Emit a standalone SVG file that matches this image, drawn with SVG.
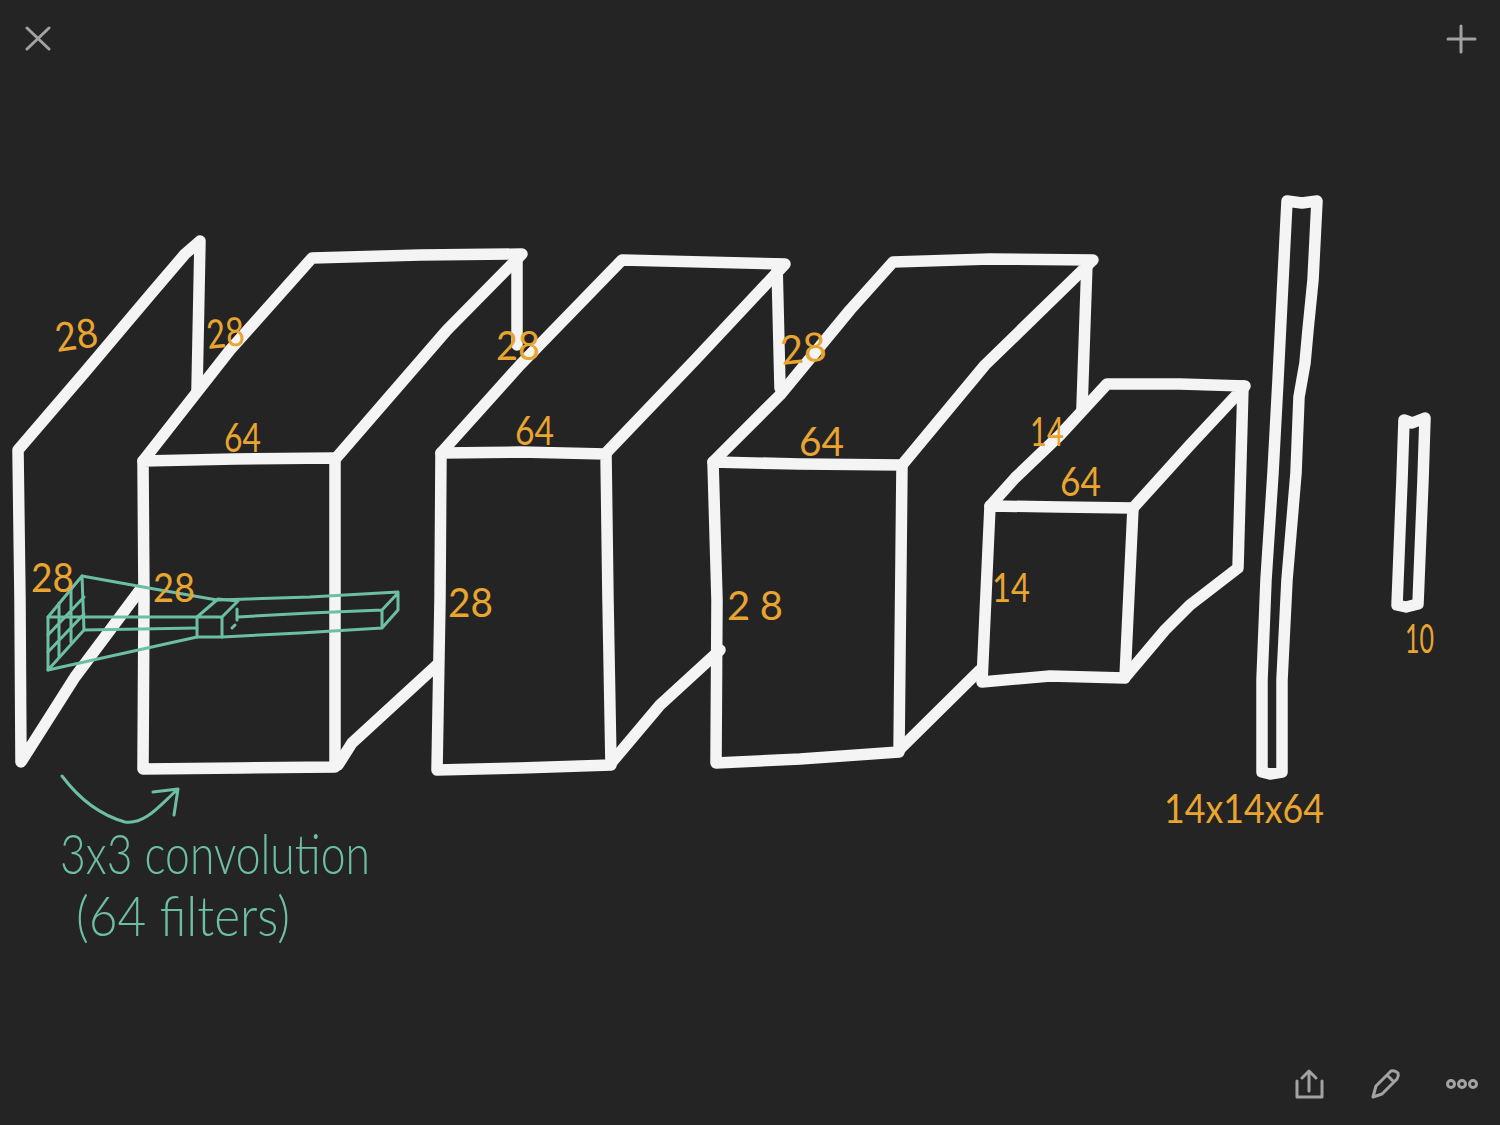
<svg xmlns="http://www.w3.org/2000/svg" width="1500" height="1125" viewBox="0 0 1500 1125">
<style>
.w{fill:none;stroke:#f5f4f4;stroke-width:11.5;stroke-linecap:round;stroke-linejoin:round}
.g{fill:none;stroke:#6cbfa4;stroke-width:3;stroke-linecap:round;stroke-linejoin:round}
.i{fill:none;stroke:#a3a2a2;stroke-width:3;stroke-linecap:round;stroke-linejoin:round}
text{font-family:"Lato","Open Sans",sans-serif}
.o{fill:#e8a530;font-size:40px}
.t{fill:#6cbfa4;font-size:56px;font-weight:300}
</style>
<rect width="1500" height="1125" fill="#252425"/>
<g id="sheet"><path class="w" d="M197 391L200 241L185 254L150 295L85 372L18 450L20 600L21 762L75 677L140 590"/></g>
<g id="box1"><path class="w" d="M143 461L235 459L335 458L335 767L240 768L143 769L144 600Z"/><path class="w" d="M143 461L230 350L312 258L420 255L522 254L447 330L337 457"/><path class="w" d="M517 258L517 345"/><path class="w" d="M338 765L352 743L437 665"/></g>
<g id="box2"><path class="w" d="M441 453L520 452L606 454L608 600L611 765L520 768L437 770L440 600Z"/><path class="w" d="M441 453L520 365L622 260L785 264L695 360L606 453"/><path class="w" d="M777 264L780 388"/><path class="w" d="M612 762L660 705L720 650"/></g>
<g id="box3"><path class="w" d="M713 462L800 464L902 465L899 752L800 759L716 763L717 600Z"/><path class="w" d="M713 462L780 395L850 310L893 262L990 259L1093 260L985 365L902 465"/><path class="w" d="M1087 262L1082 408"/><path class="w" d="M899 750L980 670"/></g>
<g id="box4"><path class="w" d="M990 506L1060 507L1133 508L1125 678L1050 676L982 682Z"/><path class="w" d="M990 506L1015 478L1060 435L1107 384L1180 384L1245 386L1190 445L1133 508"/><path class="w" d="M1243 386L1238 568L1190 605L1165 630L1127 675"/></g>
<g id="flatten"><path class="w" d="M1287 201L1302 203L1317 201L1313 280L1308 330L1305 363L1299 397L1296 473L1287 580L1282 680L1282 772L1270 774L1262 772L1262 680L1266 580L1273 473L1278 380L1283 280Z"/></g>
<g id="output"><path class="w" d="M1404 420L1412 423L1425 418L1423 480L1418 604L1406 607L1397 605L1402 480Z"/></g>
<g id="filter"><path class="g" d="M82 576L48 617L48 670L84 630Z"/><path class="g" d="M71 589L71 642M59 603L59 656M48 635L84 597M48 652L84 614"/><path class="g" d="M82 576L160 590L217 600M48 617L197 617M84 630L197 628M48 670L197 637"/><path class="g" d="M197 617L222 617L222 637L197 637ZM197 617L218 599L238 601L222 617"/><path class="g" d="M218 600L310 597L398 592L398 610L382 628L300 633L222 637M238 617L310 613L382 610L382 628M382 610L398 593"/><path class="g" d="M237 609L237 620M235 625L232 628"/><path class="g" d="M62 776C80 800 100 815 125 822C145 825 160 805 177 790M153 792L178 789L174 815"/></g>
<g id="labels">
<text class="o" x="57" y="352" textLength="43" lengthAdjust="spacingAndGlyphs" transform="rotate(-8 57 352)">28</text>
<text class="o" x="208" y="349" textLength="38" lengthAdjust="spacingAndGlyphs" transform="rotate(-6 208 349)">28</text>
<text class="o" x="224" y="452" textLength="37" lengthAdjust="spacingAndGlyphs">64</text>
<text class="o" x="496" y="360" textLength="44" lengthAdjust="spacingAndGlyphs">28</text>
<text class="o" x="515" y="445" textLength="39" lengthAdjust="spacingAndGlyphs">64</text>
<text class="o" x="782" y="365" textLength="46" lengthAdjust="spacingAndGlyphs" transform="rotate(-6 782 365)">28</text>
<text class="o" x="799" y="456" textLength="45" lengthAdjust="spacingAndGlyphs">64</text>
<text class="o" x="1030" y="446" textLength="34" lengthAdjust="spacingAndGlyphs">14</text>
<text class="o" x="1060" y="496" textLength="41" lengthAdjust="spacingAndGlyphs">64</text>
<text class="o" x="31" y="592" textLength="43" lengthAdjust="spacingAndGlyphs">28</text>
<text class="o" x="153" y="602" textLength="42" lengthAdjust="spacingAndGlyphs">28</text>
<text class="o" x="448" y="617" textLength="45" lengthAdjust="spacingAndGlyphs">28</text>
<text class="o" x="727" y="620" textLength="56">28</text>
<text class="o" x="992" y="602" textLength="38" lengthAdjust="spacingAndGlyphs">14</text>
<text class="o" x="1405" y="653" textLength="29" lengthAdjust="spacingAndGlyphs">10</text>
<text class="o" x="1164" y="823" textLength="160" lengthAdjust="spacingAndGlyphs">14x14x64</text>
<text class="t" x="60" y="874" textLength="310" lengthAdjust="spacingAndGlyphs">3x3 convolution</text>
<text class="t" x="76" y="936" textLength="214" lengthAdjust="spacingAndGlyphs">(64 filters)</text>
</g>
<g id="toolbar">
<path class="i" d="M27 28L49 49M49 28L27 49M1448 39L1475 39M1461 26L1461 52"/>
<path class="i" d="M1297 1081V1097H1322V1081M1309 1091V1071M1302 1078L1309 1071L1316 1078"/>
<path class="i" d="M1373 1097L1376 1086L1391 1071Q1395 1070 1398 1073Q1399 1076 1397 1079L1382 1094ZM1387 1075L1394 1082"/>
<circle class="i" cx="1451" cy="1084" r="3.5"/><circle class="i" cx="1462" cy="1084" r="3.5"/><circle class="i" cx="1473" cy="1084" r="3.5"/>
</g>
</svg>
